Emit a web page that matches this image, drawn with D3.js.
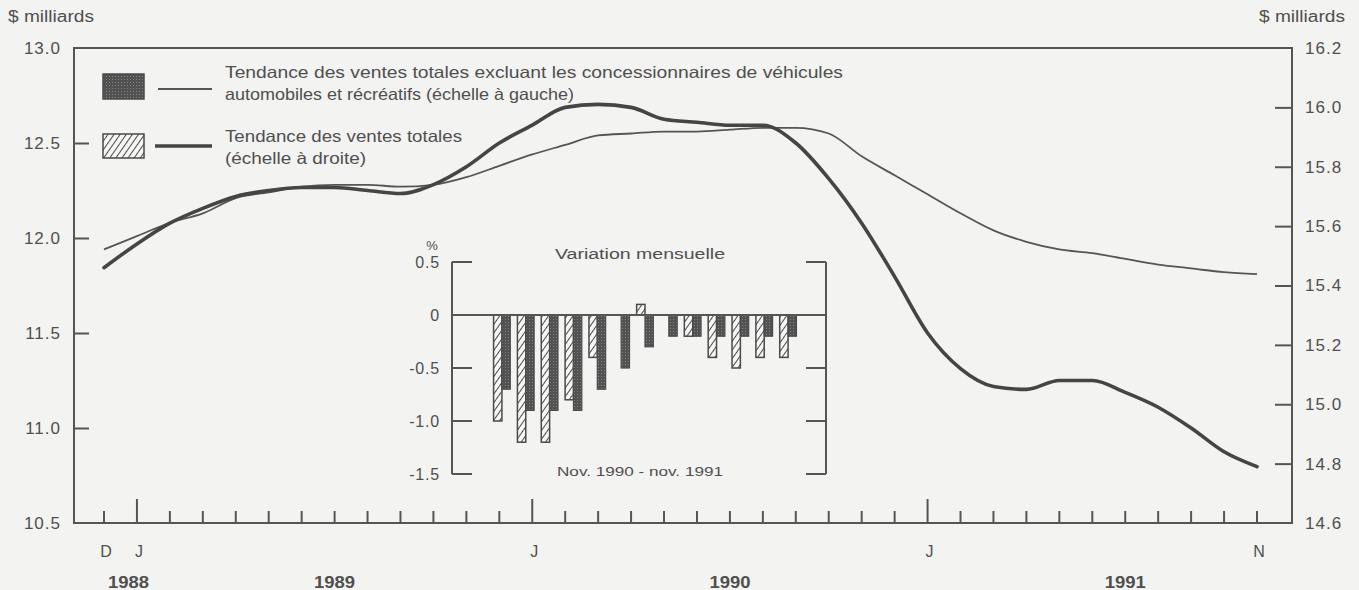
<!DOCTYPE html>
<html>
<head>
<meta charset="utf-8">
<script src="https://cdn.jsdelivr.net/npm/d3@7"></script>
<style>
  html, body { margin: 0; padding: 0; background: #f3f3f1; }
  svg { display: block; }
  text { font-family: Arial, "Liberation Sans", Helvetica, sans-serif; fill: #4f4f4f; }
</style>
</head>
<body>
<svg id="chart" width="1359" height="590"></svg>
<script>
// Monthly trend, Dec 1988 – Nov 1991
const months = [
  "1988-12",
  "1989-01","1989-02","1989-03","1989-04","1989-05","1989-06",
  "1989-07","1989-08","1989-09","1989-10","1989-11","1989-12",
  "1990-01","1990-02","1990-03","1990-04","1990-05","1990-06",
  "1990-07","1990-08","1990-09","1990-10","1990-11","1990-12",
  "1991-01","1991-02","1991-03","1991-04","1991-05","1991-06",
  "1991-07","1991-08","1991-09","1991-10","1991-11"
];

// Total sales excluding motor & recreational vehicle dealers (left scale, $ billions)
const salesExclAutos = [
  11.94,
  12.01, 12.08, 12.13, 12.21, 12.24, 12.27,
  12.28, 12.28, 12.27, 12.28, 12.32, 12.38,
  12.44, 12.49, 12.54, 12.55, 12.56, 12.56,
  12.57, 12.58, 12.58, 12.55, 12.43, 12.33,
  12.23, 12.13, 12.04, 11.98, 11.94, 11.92,
  11.89, 11.86, 11.84, 11.82, 11.81
];

// Total sales (right scale, $ billions)
const salesTotal = [
  15.46,
  15.54, 15.61, 15.66, 15.70, 15.72, 15.73,
  15.73, 15.72, 15.71, 15.74, 15.80, 15.88,
  15.94, 16.00, 16.01, 16.00, 15.96, 15.95,
  15.94, 15.94, 15.88, 15.76, 15.61, 15.43,
  15.24, 15.12, 15.06, 15.05, 15.08, 15.08,
  15.04, 14.99, 14.92, 14.84, 14.79
];

const leftTicks  = [10.5, 11.0, 11.5, 12.0, 12.5, 13.0];
const rightTicks = [14.6, 14.8, 15.0, 15.2, 15.4, 15.6, 15.8, 16.0, 16.2];
const labeledMonths = ["1988-12", "1989-01", "1990-01", "1991-01", "1991-11"];
const labeledMonthText = ["D", "J", "J", "J", "N"];
const years = ["1988", "1989", "1990", "1991"];

// Monthly % change, Nov 1990 – Nov 1991 (inset)
const insetMonths = ["1990-11","1990-12","1991-01","1991-02","1991-03","1991-04","1991-05",
                     "1991-06","1991-07","1991-08","1991-09","1991-10","1991-11"];
const changeTotal = [-1.0, -1.2, -1.2, -0.8, -0.4, 0.0, 0.1, 0.0, -0.2, -0.4, -0.5, -0.4, -0.4];
const changeExcl  = [-0.7, -0.9, -0.9, -0.9, -0.7, -0.5, -0.3, -0.2, -0.2, -0.2, -0.2, -0.2, -0.2];
const insetTicks = [0.5, 0, -0.5, -1.0, -1.5];

const legendText = [
  ["Tendance des ventes totales excluant les concessionnaires de véhicules",
   "automobiles et récréatifs (échelle à gauche)"],
  ["Tendance des ventes totales",
   "(échelle à droite)"]
];

const INK = "#4a4a4a";
const svg = d3.select("#chart");
// plain hyphen for negative numbers
const fmt1 = v => d3.format(".1f")(v).replace("\u2212", "-");

// ---------- patterns ----------
const defs = svg.append("defs");
const hatch = defs.append("pattern")
  .attr("id", "hatch").attr("patternUnits", "userSpaceOnUse")
  .attr("width", 5).attr("height", 5)
  .attr("patternTransform", "rotate(35)");
hatch.append("rect").attr("width", 5).attr("height", 5).attr("fill", "#f6f6f4");
hatch.append("line").attr("x1", 0).attr("y1", 0).attr("x2", 0).attr("y2", 5)
  .attr("stroke", INK).attr("stroke-width", 2);

const dots = defs.append("pattern")
  .attr("id", "dots").attr("patternUnits", "userSpaceOnUse")
  .attr("width", 3).attr("height", 3);
dots.append("rect").attr("width", 3).attr("height", 3).attr("fill", "#525252");
dots.append("rect").attr("x", 1).attr("y", 1).attr("width", 1).attr("height", 1).attr("fill", "#858585");

// ---------- main chart ----------
const frame = { left: 74, right: 1292, top: 48, bottom: 523 };

const x = d3.scalePoint().domain(months).range([104, 1257]);
const yL = d3.scaleLinear().domain([10.5, 13.0]).range([frame.bottom, frame.top]);
const yR = d3.scaleLinear().domain([14.6, 16.2]).range([frame.bottom, frame.top]);

// frame
svg.append("rect")
  .attr("x", frame.left).attr("y", frame.top)
  .attr("width", frame.right - frame.left).attr("height", frame.bottom - frame.top)
  .attr("fill", "none").attr("stroke", "#555").attr("stroke-width", 2);

// left axis (ticks pointing inward)
const leftAxis = d3.axisLeft(yL).tickValues(leftTicks).tickSize(-15)
  .tickPadding(14).tickFormat(fmt1);
const gL = svg.append("g").attr("transform", `translate(${frame.left},0)`).call(leftAxis);
gL.select(".domain").remove();
gL.selectAll(".tick line").attr("stroke", "#555").attr("stroke-width", 2)
  .filter(d => d === 13.0 || d === 10.5).remove();
gL.selectAll(".tick text").attr("font-size", 17).attr("fill", "#4f4f4f")
  .attr("letter-spacing", 1).attr("x", -13);

// right axis (ticks pointing inward)
const rightAxis = d3.axisRight(yR).tickValues(rightTicks).tickSize(-17)
  .tickPadding(14).tickFormat(fmt1);
const gR = svg.append("g").attr("transform", `translate(${frame.right},0)`).call(rightAxis);
gR.select(".domain").remove();
gR.selectAll(".tick line").attr("stroke", "#555").attr("stroke-width", 2)
  .filter(d => d === 16.2 || d === 14.6).remove();
gR.selectAll(".tick text").attr("font-size", 17).attr("fill", "#4f4f4f")
  .attr("letter-spacing", 1).attr("x", 13);

// month ticks along the bottom
const gX = svg.append("g");
gX.selectAll("line").data(months).join("line")
  .attr("x1", d => x(d)).attr("x2", d => x(d))
  .attr("y1", frame.bottom)
  .attr("y2", d => d.endsWith("-01") ? frame.bottom - 24 : frame.bottom - 12)
  .attr("stroke", "#555").attr("stroke-width", 2);

gX.selectAll("text.month").data(labeledMonths).join("text")
  .attr("class", "month")
  .attr("x", d => x(d) + 2).attr("y", 557)
  .attr("text-anchor", "middle").attr("font-size", 16)
  .text((d, i) => labeledMonthText[i]);

gX.selectAll("text.year").data(years).join("text")
  .attr("class", "year")
  .attr("x", d => d === "1988" ? x("1988-12") + 4 : x(d + "-07"))
  .attr("y", 588)
  .attr("text-anchor", d => d === "1988" ? "start" : "middle")
  .attr("font-size", 16).attr("font-weight", "bold").attr("fill", "#3f3f3f")
  .attr("textLength", 41).attr("lengthAdjust", "spacingAndGlyphs")
  .text(d => d);

// unit labels
svg.append("text").attr("x", 8).attr("y", 22).attr("font-size", 16)
  .attr("textLength", 86).attr("lengthAdjust", "spacingAndGlyphs").text("$ milliards");
svg.append("text").attr("x", 1259).attr("y", 22).attr("font-size", 16)
  .attr("textLength", 86).attr("lengthAdjust", "spacingAndGlyphs").text("$ milliards");

// trend lines
const line = (scale) => d3.line()
  .x((d, i) => x(months[i]))
  .y(d => scale(d))
  .curve(d3.curveMonotoneX);

svg.append("path").datum(salesExclAutos)
  .attr("d", line(yL))
  .attr("fill", "none").attr("stroke", "#555").attr("stroke-width", 1.8)
  .attr("stroke-linejoin", "round");

svg.append("path").datum(salesTotal)
  .attr("d", line(yR))
  .attr("fill", "none").attr("stroke", "#454545").attr("stroke-width", 3.6)
  .attr("stroke-linejoin", "round").attr("stroke-linecap", "round");

// ---------- legend ----------
const legend = svg.append("g");
legend.append("rect").attr("x", 103).attr("y", 74).attr("width", 41).attr("height", 25)
  .attr("fill", "url(#dots)").attr("stroke", INK).attr("stroke-width", 1.5);
legend.append("line").attr("x1", 158).attr("x2", 212).attr("y1", 89).attr("y2", 89)
  .attr("stroke", "#555").attr("stroke-width", 1.8);
legend.append("rect").attr("x", 103).attr("y", 134).attr("width", 41).attr("height", 24)
  .attr("fill", "url(#hatch)").attr("stroke", INK).attr("stroke-width", 1.5);
legend.append("line").attr("x1", 155).attr("x2", 212).attr("y1", 146).attr("y2", 146)
  .attr("stroke", "#454545").attr("stroke-width", 3.6);

const legendWidths = [[618, 349], [237, 141]];
const legendY = [[78, 100], [142, 164]];
legendText.forEach((lines, k) => {
  lines.forEach((t, j) => {
    legend.append("text")
      .attr("x", 225).attr("y", legendY[k][j])
      .attr("font-size", 16.5)
      .attr("textLength", legendWidths[k][j]).attr("lengthAdjust", "spacingAndGlyphs")
      .text(t);
  });
});

// ---------- inset: monthly change ----------
const inset = { left: 452, right: 826, top: 262, bottom: 474 };
const xb = d3.scaleBand().domain(insetMonths).range([490, 800])
  .paddingInner(0.3).paddingOuter(0.15);
const yb = d3.scaleLinear().domain([-1.5, 0.5]).range([inset.bottom, inset.top]);
const gI = svg.append("g");

// bracket sides
gI.append("line").attr("x1", inset.left).attr("x2", inset.left)
  .attr("y1", inset.top).attr("y2", inset.bottom).attr("stroke", "#555").attr("stroke-width", 2);
gI.append("line").attr("x1", inset.right).attr("x2", inset.right)
  .attr("y1", inset.top).attr("y2", inset.bottom).attr("stroke", "#555").attr("stroke-width", 2);
gI.selectAll("line.tl").data(insetTicks).join("line").attr("class", "tl")
  .attr("x1", inset.left).attr("x2", inset.left + 20)
  .attr("y1", d => yb(d)).attr("y2", d => yb(d))
  .attr("stroke", "#555").attr("stroke-width", 2);
gI.selectAll("line.tr").data(insetTicks).join("line").attr("class", "tr")
  .attr("x1", inset.right - 20).attr("x2", inset.right)
  .attr("y1", d => yb(d)).attr("y2", d => yb(d))
  .attr("stroke", "#555").attr("stroke-width", 2);
gI.selectAll("text.tick").data(insetTicks).join("text").attr("class", "tick")
  .attr("x", inset.left - 12).attr("y", d => yb(d) + 6)
  .attr("text-anchor", "end").attr("font-size", 16).attr("letter-spacing", 0.8)
  .text(d => d === 0 ? "0" : fmt1(d));
gI.append("text").attr("x", 432).attr("y", 250).attr("font-size", 13)
  .attr("text-anchor", "middle").text("%");

// bars
const bw = xb.bandwidth() / 2;
gI.selectAll("rect.tot").data(changeTotal).join("rect").attr("class", "tot")
  .attr("x", (d, i) => xb(insetMonths[i]))
  .attr("y", d => Math.min(yb(d), yb(0)))
  .attr("width", bw)
  .attr("height", d => Math.abs(yb(d) - yb(0)))
  .attr("fill", "url(#hatch)").attr("stroke", INK).attr("stroke-width", 1.5)
  .attr("display", d => d === 0 ? "none" : null);
gI.selectAll("rect.exc").data(changeExcl).join("rect").attr("class", "exc")
  .attr("x", (d, i) => xb(insetMonths[i]) + bw)
  .attr("y", d => Math.min(yb(d), yb(0)))
  .attr("width", bw)
  .attr("height", d => Math.abs(yb(d) - yb(0)))
  .attr("fill", "url(#dots)").attr("stroke", INK).attr("stroke-width", 1.2)
  .attr("display", d => d === 0 ? "none" : null);

// zero line
gI.append("line").attr("x1", inset.left).attr("x2", inset.right)
  .attr("y1", yb(0)).attr("y2", yb(0)).attr("stroke", "#555").attr("stroke-width", 2);

gI.append("text").attr("x", 640).attr("y", 259).attr("text-anchor", "middle")
  .attr("font-size", 15.5).attr("textLength", 170).attr("lengthAdjust", "spacingAndGlyphs")
  .text("Variation mensuelle");
gI.append("text").attr("x", 640).attr("y", 476).attr("text-anchor", "middle")
  .attr("font-size", 13).attr("textLength", 166).attr("lengthAdjust", "spacingAndGlyphs")
  .text("Nov. 1990 - nov. 1991");
</script>
</body>
</html>
